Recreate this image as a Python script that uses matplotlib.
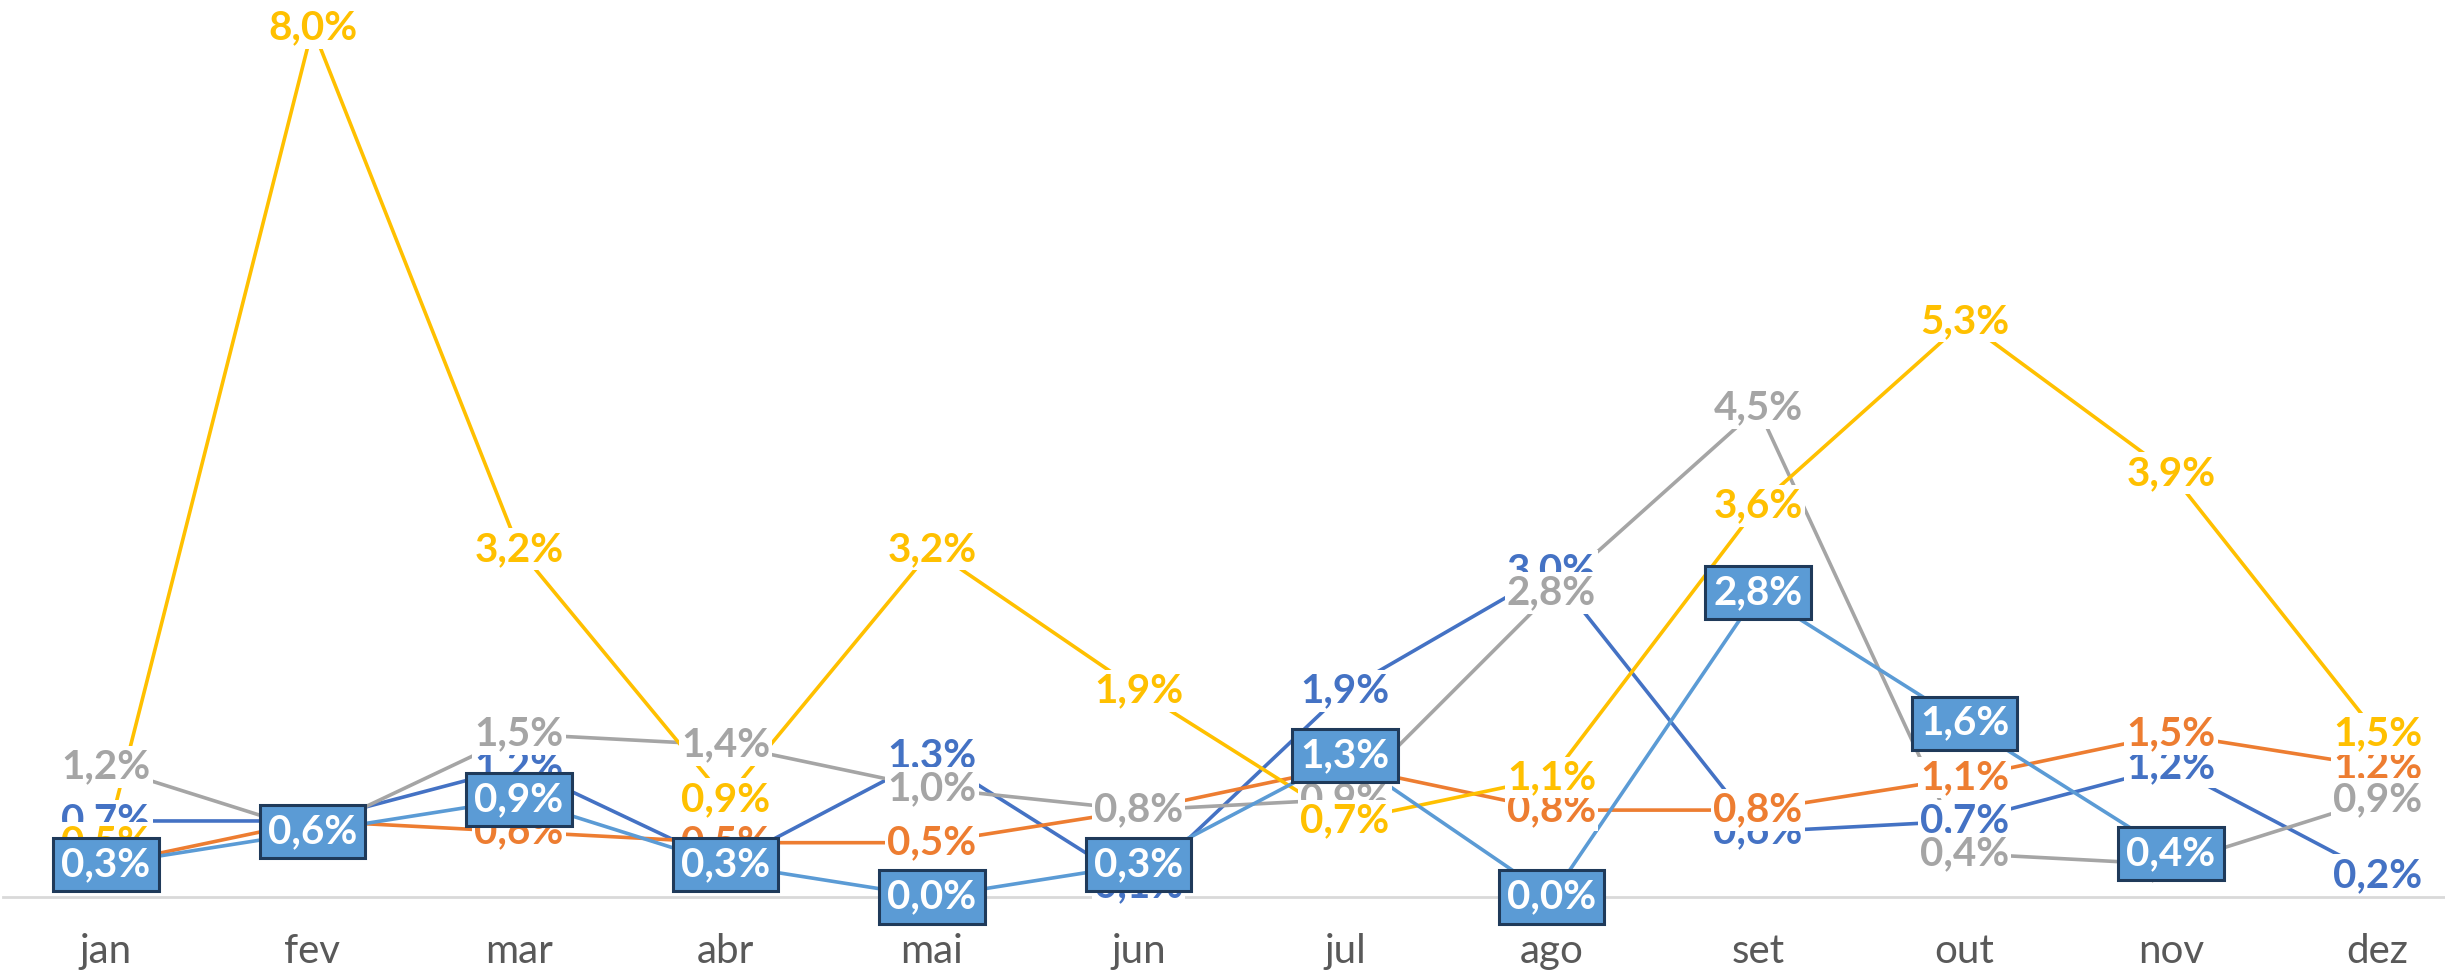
import numpy as np
import matplotlib
matplotlib.use("Agg")
import matplotlib.pyplot as plt

plt.rcParams['font.family'] = ['Lato', 'DejaVu Sans']

months = ['jan', 'fev', 'mar', 'abr', 'mai', 'jun', 'jul', 'ago', 'set', 'out', 'nov', 'dez']

# valores em %
s_azul = [0.7, 0.7, 1.2, 0.3, 1.3, 0.1, 1.9, 3.0, 0.6, 0.7, 1.2, 0.2]
s_laranja = [0.3, 0.7, 0.6, 0.5, 0.5, 0.8, 1.2, 0.8, 0.8, 1.1, 1.5, 1.2]
s_cinza = [1.2, 0.6, 1.5, 1.4, 1.0, 0.8, 0.9, 2.8, 4.5, 0.4, 0.3, 0.9]
s_amarelo = [0.5, 8.0, 3.2, 0.9, 3.2, 1.9, 0.7, 1.1, 3.6, 5.3, 3.9, 1.5]
s_azul_claro = [0.3, 0.6, 0.9, 0.3, 0.0, 0.3, 1.3, 0.0, 2.8, 1.6, 0.4, np.nan]

series = [
    (s_azul, '#4472C4'),
    (s_laranja, '#ED7D31'),
    (s_cinza, '#A5A5A5'),
    (s_amarelo, '#FFC000'),
]

W, H = 2445, 971
fig = plt.figure(figsize=(W / 100, H / 100), dpi=100)
# plot area slightly wider than the picture (as in the original)
ax = fig.add_axes([2.75 / W, 74 / H, 2478 / W, 869 / H])

x = np.arange(len(months))

for vals, col in series:
    ax.plot(x, vals, color=col, lw=2.6, zorder=2)
ax.plot(x, s_azul_claro, color='#5B9BD5', lw=2.6, zorder=2)


def fmt(v):
    return ('%.1f%%' % v).replace('.', ',')


for vals, col in series:
    for xi, v in zip(x, vals):
        ax.text(xi, v, fmt(v), ha='center', va='center', color=col,
                fontsize=29, fontweight='bold', zorder=5, clip_on=False,
                bbox=dict(boxstyle='square,pad=0.06', fc='white', ec='none'))

for xi, v in zip(x, s_azul_claro):
    if np.isnan(v):
        continue
    ax.text(xi, v, fmt(v), ha='center', va='center', color='white',
            fontsize=29, fontweight='bold', zorder=6, clip_on=False,
            bbox=dict(boxstyle='square,pad=0.2', fc='#5B9BD5', ec='#1F3A5A', lw=2.2))

ax.set_xlim(-0.5, 11.5)
ax.set_ylim(0, 8)
ax.set_xticks(x)
ax.set_xticklabels(months, fontsize=29, color='#595959')
ax.tick_params(axis='x', length=0, pad=26)
ax.set_yticks([])
for s in ['top', 'right', 'left']:
    ax.spines[s].set_visible(False)
ax.spines['bottom'].set_color('#D9D9D9')
ax.spines['bottom'].set_linewidth(2)
ax.spines['bottom'].set_zorder(1)
ax.patch.set_visible(False)

fig.savefig('out.png', dpi=100)
